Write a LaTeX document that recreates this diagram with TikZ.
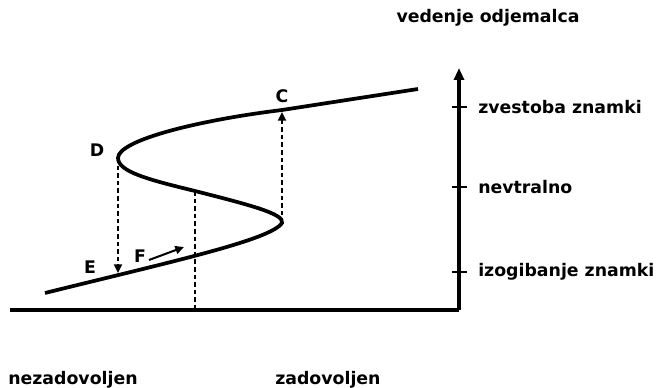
\documentclass[tikz,border=0pt]{standalone}
\usepackage{fontspec}
\setmainfont{DejaVu Sans}
\usetikzlibrary{arrows.meta}

\begin{document}
\begin{tikzpicture}[
    x=0.75pt, y=-0.75pt,
    curve/.style={line width=2.8pt},
    axis/.style={line width=2.6pt},
    guide/.style={line width=1.4pt, dash pattern=on 3.5pt off 2.2pt},
    arrow/.style={-{Triangle[length=6.5pt,width=6pt]}},
    lbl/.style={font=\bfseries\fontsize{13}{15}\selectfont, inner sep=0pt}
]
    \useasboundingbox (0,0) rectangle (672,388);

    % axes
    \coordinate (O) at (459,310);
    \coordinate (top) at (459,68);
    \coordinate (left) at (10,310);
    \draw[axis, -{Triangle[length=9pt,width=7.5pt]}] (O) -- (top);
    \draw[axis] (left) -- (O);
    \foreach \y/\name/\txt in {107/loyal/zvestoba znamki, 187/neutral/nevtralno, 272/avoid/izogibanje znamki} {
        \draw[line width=1.5pt] (452,\y) -- (467,\y);
        \node[lbl, anchor=west] (\name) at (478,\y) {\txt};
    }
    \node[lbl] (title) at (488,18) {vedenje odjemalca};
    \node[lbl, anchor=west] (unhappy) at (8,380) {nezadovoljen};
    \node[lbl, anchor=west] (happy) at (275,380) {zadovoljen};

    % S-curve
    \coordinate (start) at (45,293);
    \coordinate (nose) at (282,223);
    \coordinate (mid) at (195,191);
    \coordinate (D) at (118,158);
    \coordinate (C) at (282,110);
    \coordinate (end) at (418,89);
    \draw[curve] (start) .. controls (170,262) and (271,240) .. (nose)
        .. controls (285,214) and (250,205) .. (mid)
        .. controls (150,180) and (118,172) .. (D)
        .. controls (118,140) and (200,120) .. (C) -- (end);

    % jumps
    \coordinate (E) at (118,273);
    \coordinate (foot) at (195,310);
    \draw[guide, arrow] (D) -- (E);
    \draw[guide, arrow, shorten >=1.5pt] (nose) -- (C);
    \draw[guide] (mid) -- (foot);

    \coordinate (Fs) at (149,260);
    \coordinate (Fe) at (184,247);
    \draw[line width=1.5pt, arrow] (Fs) -- (Fe);

    \node[lbl] (lC) at (282,96) {C};
    \node[lbl] (lD) at (97,150) {D};
    \node[lbl] (lE) at (90,267) {E};
    \node[lbl] (lF) at (140,256) {F};
\end{tikzpicture}
\end{document}
